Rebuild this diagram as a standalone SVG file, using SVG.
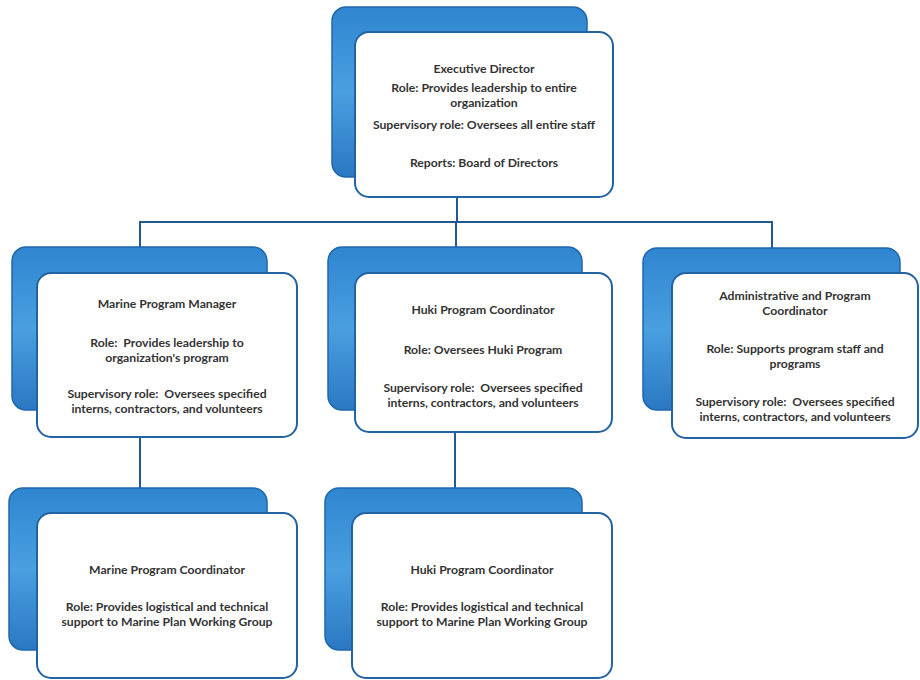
<svg xmlns="http://www.w3.org/2000/svg" width="920" height="680" viewBox="0 0 920 680">
<defs>
<linearGradient id="blue" x1="0" y1="0" x2="0" y2="1">
<stop offset="0" stop-color="#2f86d0"/>
<stop offset="0.5" stop-color="#4a9fe0"/>
<stop offset="1" stop-color="#2a78c2"/>
</linearGradient>
<style>
.back{fill:url(#blue);stroke:#1f67ad;stroke-width:1.5}
.front{fill:#ffffff;stroke:#2363a2;stroke-width:2}
.conn{fill:none;stroke:#1f5a94;stroke-width:2}
text{font-family:Lato,"Liberation Sans",Arial,sans-serif;font-weight:bold;font-size:12.2px;fill:#333333;text-anchor:middle}
</style>
</defs>
<rect width="920" height="680" fill="#ffffff"/>
<g id="connectors">
<path class="conn" d="M457 196 V222 M140 247 V222 H772 V248 M456 222 V247"/>
<path class="conn" d="M140 437 V488"/>
<path class="conn" d="M455 432 V488"/>
</g>
<g id="executive-director">
<rect class="back" x="332" y="7" width="255" height="170" rx="14"/>
<rect class="front" x="355" y="32" width="258" height="165" rx="14"/>
<text x="484" y="73">Executive Director</text>
<text x="484" y="92">Role: Provides leadership to entire</text>
<text x="484" y="107">organization</text>
<text x="484" y="129">Supervisory role: Oversees all entire staff</text>
<text x="484" y="167">Reports: Board of Directors</text>
</g>
<g id="marine-program-manager">
<rect class="back" x="12" y="247" width="255" height="163" rx="14"/>
<rect class="front" x="37" y="273" width="260" height="164" rx="14"/>
<text x="167" y="308">Marine Program Manager</text>
<text x="167" y="347" xml:space="preserve">Role:  Provides leadership to</text>
<text x="167" y="362">organization's program</text>
<text x="167" y="398" xml:space="preserve">Supervisory role:  Oversees specified</text>
<text x="167" y="413">interns, contractors, and volunteers</text>
</g>
<g id="huki-program-coordinator">
<rect class="back" x="328" y="247" width="254" height="163" rx="14"/>
<rect class="front" x="355" y="273" width="257" height="159" rx="14"/>
<text x="483" y="314">Huki Program Coordinator</text>
<text x="483" y="354">Role: Oversees Huki Program</text>
<text x="483" y="392" xml:space="preserve">Supervisory role:  Oversees specified</text>
<text x="483" y="407">interns, contractors, and volunteers</text>
</g>
<g id="admin-program-coordinator">
<rect class="back" x="643" y="248" width="257" height="162" rx="14"/>
<rect class="front" x="672" y="273" width="246" height="165" rx="14"/>
<text x="795" y="300">Administrative and Program</text>
<text x="795" y="315">Coordinator</text>
<text x="795" y="353">Role: Supports program staff and</text>
<text x="795" y="368">programs</text>
<text x="795" y="406" xml:space="preserve">Supervisory role:  Oversees specified</text>
<text x="795" y="421">interns, contractors, and volunteers</text>
</g>
<g id="marine-program-coordinator">
<rect class="back" x="9" y="488" width="258" height="162" rx="14"/>
<rect class="front" x="37" y="513" width="260" height="165" rx="14"/>
<text x="167" y="574">Marine Program Coordinator</text>
<text x="167" y="611">Role: Provides logistical and technical</text>
<text x="167" y="626">support to Marine Plan Working Group</text>
</g>
<g id="huki-program-coordinator-2">
<rect class="back" x="325" y="488" width="257" height="162" rx="14"/>
<rect class="front" x="352" y="513" width="260" height="165" rx="14"/>
<text x="482" y="574">Huki Program Coordinator</text>
<text x="482" y="611">Role: Provides logistical and technical</text>
<text x="482" y="626">support to Marine Plan Working Group</text>
</g>
</svg>
